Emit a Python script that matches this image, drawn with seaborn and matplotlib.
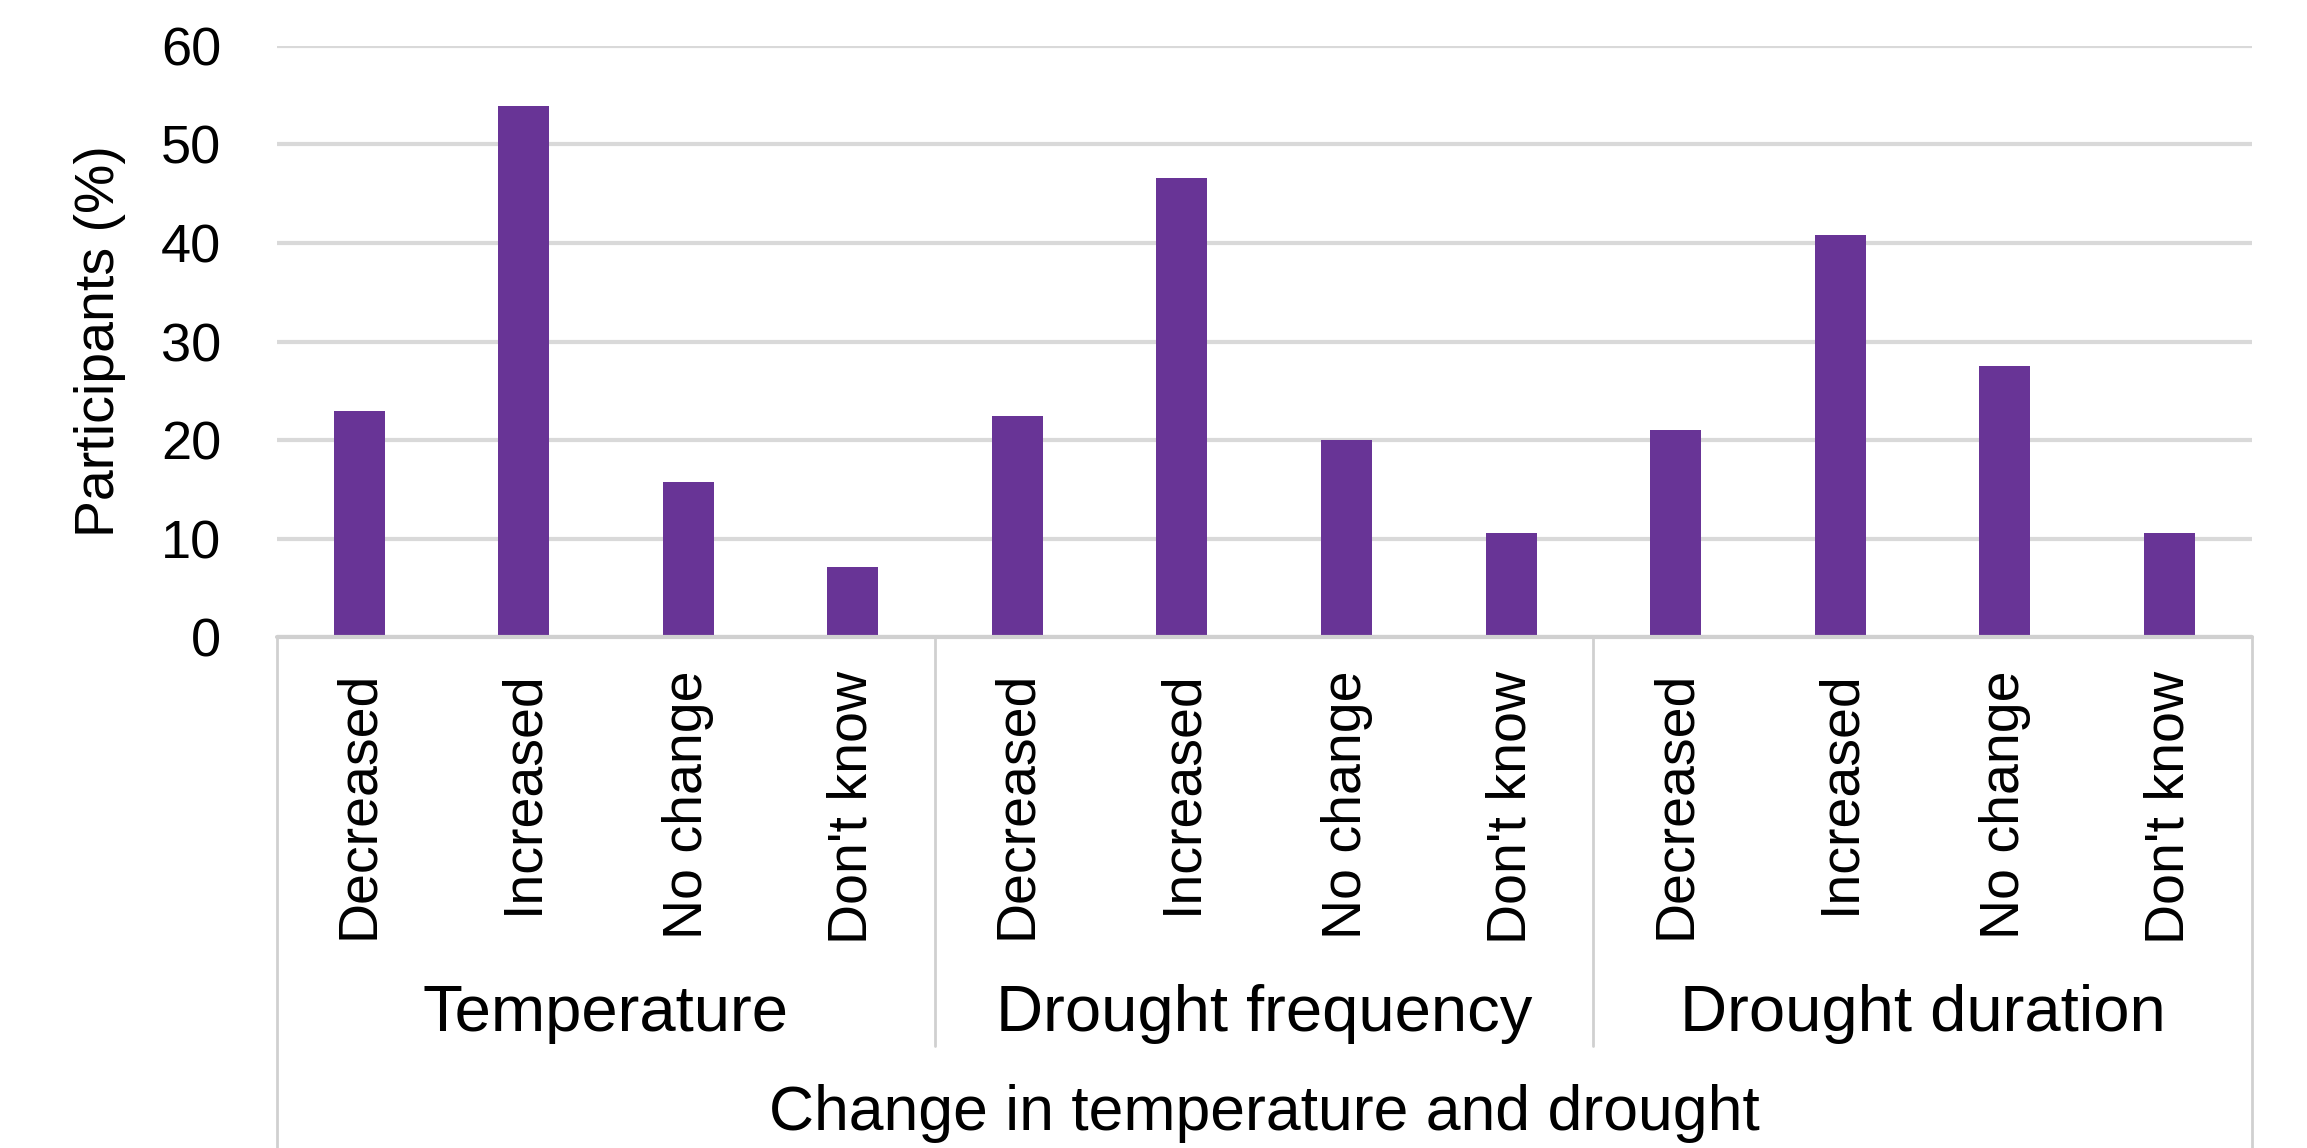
import matplotlib
matplotlib.use("Agg")
import matplotlib.pyplot as plt
import matplotlib.transforms as mtransforms
import seaborn as sns
import pandas as pd

# ---- data ----
groups = ["Temperature", "Drought frequency", "Drought duration"]
categories = ["Decreased", "Increased", "No change", "Don't know"]
temperature = [22.9, 53.9, 15.7, 7.1]
drought_frequency = [22.4, 46.6, 20.0, 10.6]
drought_duration = [21.0, 40.8, 27.5, 10.6]
y_ticks = [0, 10, 20, 30, 40, 50, 60]
x_title = "Change in temperature and drought"
y_title = "Participants (%)"

series = [temperature, drought_frequency, drought_duration]
rows = []
for g, vals in zip(groups, series):
    for c, v in zip(categories, vals):
        rows.append({"group": g, "category": c, "key": f"{g}|{c}", "value": v})
df = pd.DataFrame(rows)

sns.set_theme(style="white")
plt.rcParams["font.family"] = ["Liberation Sans", "DejaVu Sans"]

BAR = "#683496"
GRID = "#d9d9d9"
BOX = "#d0d0d0"

fig = plt.figure(figsize=(23.07, 11.48), dpi=100)
ax = fig.add_axes([0.120, 0.445, 0.856, 0.515])

sns.barplot(data=df, x="key", y="value", order=list(df["key"]), color=BAR,
            width=0.31, saturation=1, ax=ax, linewidth=0)

ax.set_ylim(0, 60)
ax.set_xlim(-0.5, len(df) - 0.5)
ax.set_yticks(y_ticks)
ax.set_yticklabels([str(t) for t in y_ticks], fontsize=39, color="black")
ax.tick_params(axis="y", length=0, pad=40)
ax.yaxis.grid(True, color=GRID, linewidth=3)
ax.set_axisbelow(True)
for s in ["top", "right", "left", "bottom"]:
    ax.spines[s].set_visible(False)

# category tick labels
ax.set_xticks(range(len(df)))
ax.set_xticklabels(list(df["category"]), rotation=90, fontsize=40,
                   color="black", va="top", ha="center")
ax.tick_params(axis="x", length=0, pad=24)
ax.set_xlabel("")

# baseline (grey zero line)
ax.axhline(0, color=BOX, linewidth=3, clip_on=False, zorder=3)

trans = mtransforms.blended_transform_factory(ax.transData, ax.transAxes)
n_per = len(categories)
# group separators and outer box lines
for i in range(1, len(groups)):
    xpos = i * n_per - 0.5
    ax.plot([xpos, xpos], [0, -0.692], transform=trans, color=BOX,
            linewidth=2, clip_on=False)
for xpos in [-0.5, len(df) - 0.5]:
    ax.plot([xpos, xpos], [0, -0.87], transform=trans, color=BOX,
            linewidth=2, clip_on=False)

# group labels
for i, g in enumerate(groups):
    xc = i * n_per + (n_per - 1) / 2
    ax.text(xc, -0.638, g, transform=trans, ha="center", va="center",
            fontsize=47, color="black")

# axis titles
ax.text((len(df) - 1) / 2, -0.806, x_title, transform=trans, ha="center",
        va="center", fontsize=45, color="black")
ax.set_ylabel(y_title, fontsize=40, color="black")
ax.yaxis.label.set_va("center")
ax.yaxis.set_label_coords(-0.0897, 0.5)

fig.savefig("out.png", dpi=100, facecolor="white")
